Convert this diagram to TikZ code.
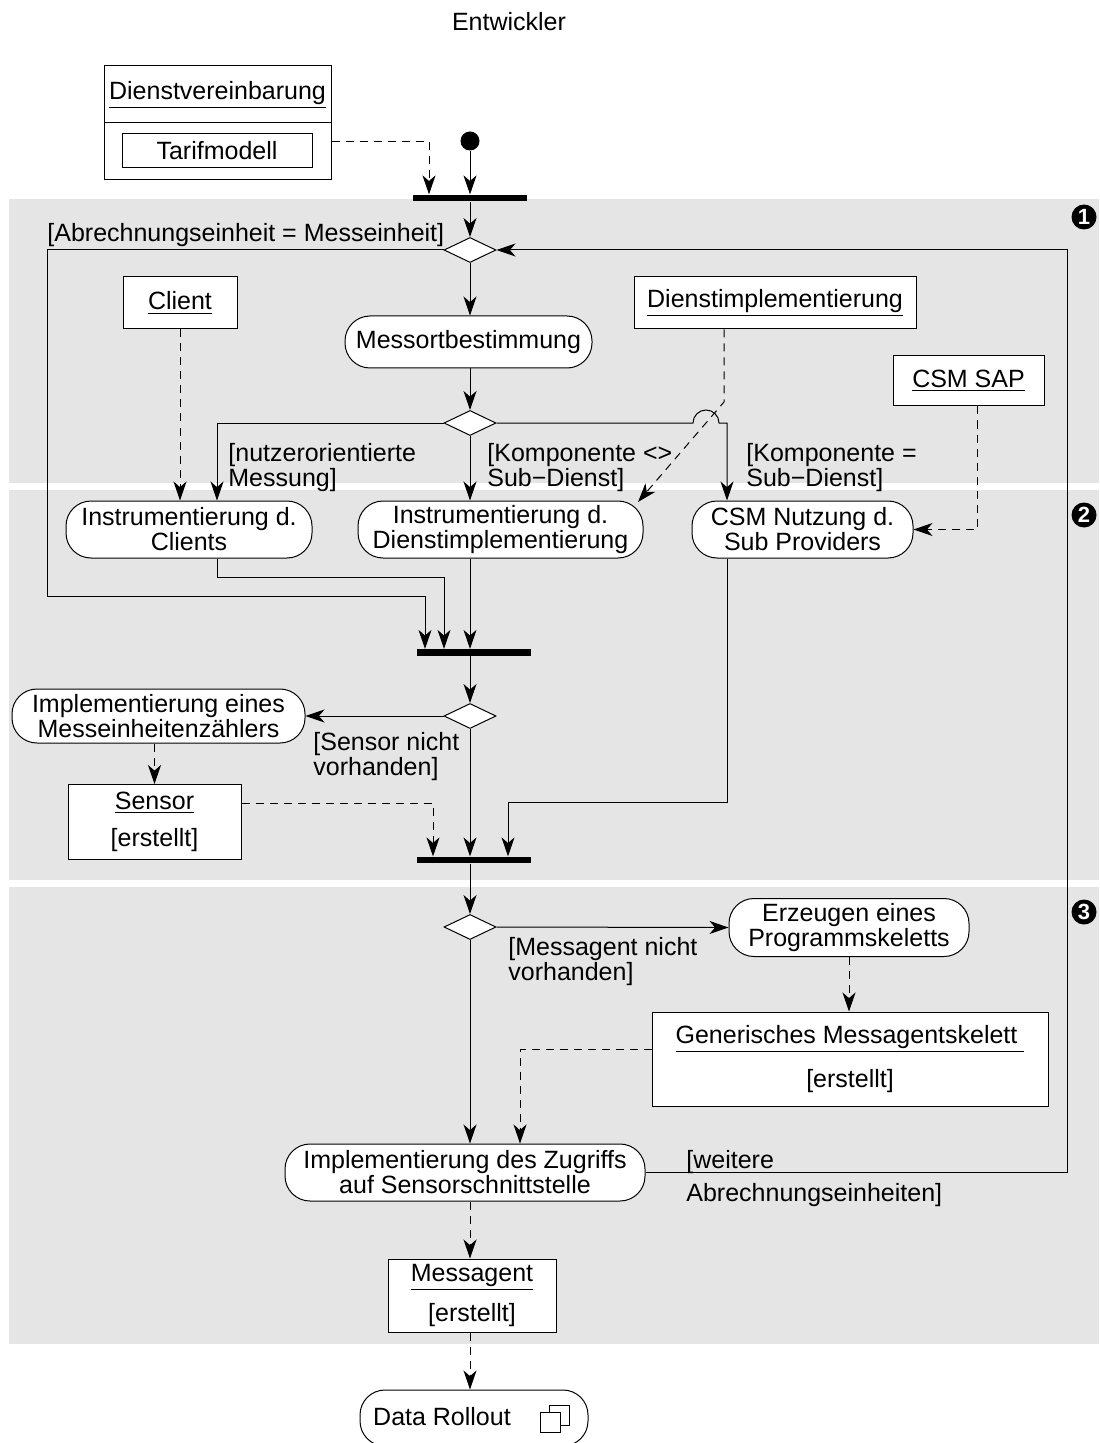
\documentclass[tikz,border=0pt]{standalone}
\usepackage{fontspec}
\setmainfont{Liberation Sans}
\usetikzlibrary{arrows.meta,shapes.geometric}
% two guard lines set on the baseline of the first one
\newcommand\glines[2]{\vtop{\hbox{#1}\hbox{#2}}}
\tikzset{
  ln/.style={line width=0.5pt},
  arr/.style={ln,-{Stealth[length=9.5pt,width=6.5pt,inset=2.8pt]}},
  dsh/.style={arr,dash pattern=on 4pt off 3pt},
  band/.style={fill=black!10},
  action/.style={draw,ln,fill=white,rounded corners=12.5pt,inner sep=0pt,align=center},
  objbox/.style={draw,ln,fill=white,inner sep=0pt,align=center},
  decision/.style={draw,ln,fill=white,diamond,inner sep=0pt,minimum width=26pt,minimum height=12.5pt},
  syncbar/.style={fill=black,inner sep=0pt,minimum width=57pt,minimum height=3.2pt},
  guard/.style={inner sep=0pt,anchor=base west},
  marker/.style={circle,fill=black,text=white,inner sep=0pt,minimum size=12.5pt,font=\fontsize{11}{11}\selectfont\bfseries},
}
\begin{document}
\begin{tikzpicture}[x=0.5pt,y=-0.5pt,font=\fontsize{12.5}{12.5}\selectfont]
\useasboundingbox (0,0) rectangle (1099,1443);

% swimlane partitions
\fill[band] (9,199) rectangle (1099,483);
\fill[band] (9,490) rectangle (1099,880);
\fill[band] (9,887) rectangle (1099,1344);

\node (lane) at (509,22) {Entwickler};
\node[marker] (m1) at (1084,217) {1};
\node[marker] (m2) at (1084,515) {2};
\node[marker] (m3) at (1084,912) {3};

% service agreement object with nested tariff model
\node[objbox,minimum width=113.5pt,minimum height=57pt] (agreement) at (217.5,123) {};
\draw[ln] (agreement.west) -- (agreement.east);
\node[inner sep=0pt] (agreementname) at (217.5,95) {\underline{Dienstvereinbarung}};
\node[objbox,minimum width=95pt,minimum height=17pt] (tarif) at (217,151) {Tarifmodell};

\node[circle,fill=black,inner sep=0pt,minimum size=9.5pt] (start) at (470,141) {};
\node[syncbar] (bar1) at (470,198) {};

% partition 1
\node[decision] (d1) at (470,250) {};
\node[objbox,minimum width=57pt,minimum height=26pt] (client) at (180,303) {\underline{Client}};
\node[objbox,minimum width=141pt,minimum height=26pt] (dimpl) at (775,303) {\underline{Dienstimplementierung}};
\node[action,minimum width=123.5pt,minimum height=26pt] (messort) at (468.5,342) {Messortbestimmung};
\node[objbox,minimum width=75.5pt,minimum height=25pt] (csmsap) at (968.5,381) {\underline{CSM SAP}};
\node[decision] (d2) at (470,423) {};

% partition 2
\node[action,minimum width=123pt,minimum height=28.5pt] (instrC) at (189,529.5) {Instrumentierung d.\\Clients};
\node[action,minimum width=142.5pt,minimum height=28.5pt] (instrD) at (500.5,529.5) {Instrumentierung d.\\Dienstimplementierung};
\node[action,minimum width=110.5pt,minimum height=28.5pt] (csmn) at (802.5,529.5) {CSM Nutzung d.\\Sub Providers};
\node[syncbar] (bar2) at (474,652.5) {};
\node[decision] (d3) at (470,716) {};
\node[action,minimum width=146.5pt,minimum height=27pt] (implz) at (158.5,716) {Implementierung eines\\Messeinheitenzählers};
\node[objbox,minimum width=86.5pt,minimum height=37.5pt] (sensor) at (154.5,822) {\underline{Sensor}\\[6pt][erstellt]};
\node[syncbar] (bar3) at (474,860) {};

% partition 3
\node[decision] (d4) at (470,927) {};
\node[action,minimum width=120pt,minimum height=29pt] (erz) at (849,927.5) {Erzeugen eines\\Programmskeletts};
\node[objbox,minimum width=198pt,minimum height=47pt] (gen) at (850,1059) {\underline{Generisches Messagentskelett\ }\\[7.5pt][erstellt]};
\node[action,minimum width=180pt,minimum height=28.5pt] (implzug) at (465,1172.5) {Implementierung des Zugriffs\\auf Sensorschnittstelle};
\node[objbox,minimum width=84pt,minimum height=36.5pt] (messagent) at (472,1295.5) {\underline{Messagent}\\[5.5pt][erstellt]};

\node[action,minimum width=114pt,minimum height=28pt] (rollout) at (474,1418) {};
\node[inner sep=0pt] (rollouttext) at (442,1417) {Data Rollout};
\draw[ln] (549,1405) rectangle (569,1425);
\filldraw[ln,fill=white] (540,1412) rectangle (560,1432);

% guards
\node[guard] (g0) at (47,242) {[Abrechnungseinheit = Messeinheit]};
\node[guard] (g1) at (228,461) {\glines{[nutzerorientierte}{Messung]}};
\node[guard] (g2) at (487,461) {\glines{[Komponente <>}{Sub−Dienst]}};
\node[guard] (g3) at (746,461) {\glines{[Komponente =}{Sub−Dienst]}};
\node[guard] (g4) at (313,750) {\glines{[Sensor nicht}{vorhanden]}};
\node[guard] (g5) at (508,955) {\glines{[Messagent nicht}{vorhanden]}};
\node[guard] (g6) at (686,1168) {[weitere};
\node[guard] (g7) at (686,1201) {Abrechnungseinheiten]};

% bend points
\coordinate (tarifturn) at (429,142);
\coordinate (loopL) at (47,596);
\coordinate (loopB) at (425,596);
\coordinate (nutzer) at (217,423);
\coordinate (jumpa) at (693,423);
\coordinate (subturn) at (727,423);
\coordinate (dimplturn) at (724,402);
\coordinate (dimpltip) at (638,502);
\coordinate (sapturn) at (977,529.5);
\coordinate (clientsin) at (444,577);
\coordinate (sensorturn) at (433,803);
\coordinate (csmturn) at (727,802);
\coordinate (csmin) at (508,802);
\coordinate (genturn) at (520,1049);
\coordinate (backR) at (1067,1172.5);
\coordinate (backT) at (1067,250);

% control and object flows
\draw[dsh] (agreement.east |- tarifturn) -- (tarifturn) -- (tarifturn |- bar1.north);
\draw[arr] (start) -- (start |- bar1.north);
\draw[arr] (bar1.south) -- (d1.north);
\draw[arr] (d1.west) -| (loopL) -- (loopB) -- (loopB |- bar2.north);
\draw[arr] (d1.south) -- (d1.south |- messort.north);
\draw[arr] (d1.south |- messort.south) -- (d2.north);
\draw[arr] (d2.west) -- (nutzer) -- (nutzer |- instrC.north);
\draw[arr] (d2.south) -- (d2.south |- instrD.north);
\draw[arr] (d2.east) -- (jumpa) arc[start angle=180,end angle=360,radius=13] -- (subturn) -- (subturn |- csmn.north);
\draw[dsh] (client.south) -- (client.south |- instrC.north);
\draw[dsh] (dimplturn |- dimpl.south) -- (dimplturn) -- (dimpltip);
\draw[dsh] (sapturn |- csmsap.south) -- (sapturn) -- (csmn.east);
\draw[arr] (nutzer |- instrC.south) |- (clientsin) -- (clientsin |- bar2.north);
\draw[arr] (d2.south |- instrD.south) -- (d2.south |- bar2.north);
\draw[arr] (d2.south |- bar2.south) -- (d3.north);
\draw[arr] (d3.west) -- (implz.east);
\draw[dsh] (sensor.north |- implz.south) -- (sensor.north);
\draw[dsh] (sensor.east |- sensorturn) -- (sensorturn) -- (sensorturn |- bar3.north);
\draw[arr] (d3.south) -- (d3.south |- bar3.north);
\draw[arr] (subturn |- csmn.south) -- (csmturn) -- (csmin) -- (csmin |- bar3.north);
\draw[arr] (d3.south |- bar3.south) -- (d4.north);
\draw[arr] (d4.east) -- (erz.west);
\draw[dsh] (erz.south) -- (erz.south |- gen.north);
\draw[dsh] (gen.west |- genturn) -- (genturn) -- (genturn |- implzug.north);
\draw[arr] (d4.south) -- (d4.south |- implzug.north);
\draw[arr] (implzug.east) -- (backR) -- (backT) -- (d1.east);
\draw[dsh] (d4.south |- implzug.south) -- (d4.south |- messagent.north);
\draw[dsh] (d4.south |- messagent.south) -- (d4.south |- rollout.north);
\end{tikzpicture}
\end{document}
